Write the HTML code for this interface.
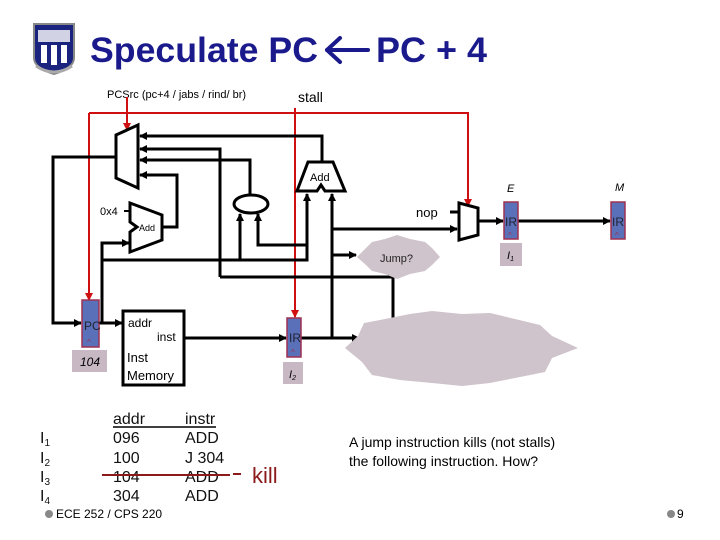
<!DOCTYPE html>
<html><head><meta charset="utf-8"><style>
body{margin:0;background:#fff}
svg{display:block;font-family:"Liberation Sans",sans-serif}
</style></head><body>
<svg width="720" height="540" viewBox="0 0 720 540" xmlns="http://www.w3.org/2000/svg">
<defs>
<marker id="a" markerWidth="8" markerHeight="8" refX="7" refY="4" orient="auto" markerUnits="userSpaceOnUse"><path d="M0,0 L8,4 L0,8 z" fill="#000"/></marker>
<marker id="r" markerWidth="8" markerHeight="8" refX="7" refY="4" orient="auto" markerUnits="userSpaceOnUse"><path d="M0,0 L8,4 L0,8 z" fill="#d01010"/></marker>
</defs>
<!-- logo -->
<g>
<path d="M34,24 L74,24 L74,58 Q74,68 54,74 Q34,68 34,58 Z" fill="#1a237e" stroke="#888" stroke-width="2"/>
<rect x="38" y="30" width="32" height="12" fill="#fff" opacity="0.8"/>
<rect x="41" y="45" width="6" height="18" fill="#fff"/><rect x="51" y="45" width="6" height="20" fill="#fff"/><rect x="61" y="45" width="6" height="18" fill="#fff"/>
<path d="M36,66 Q54,78 72,66" stroke="#aaa" stroke-width="3" fill="none"/>
</g>
<text x="90" y="62" font-size="35" font-weight="bold" fill="#1a1a8c" textLength="228" lengthAdjust="spacingAndGlyphs">Speculate PC</text>
<g stroke="#1a1a8c" stroke-width="4" fill="none" stroke-linecap="round" stroke-linejoin="round">
<line x1="327" y1="50" x2="368" y2="50"/>
<polyline points="340,38 327,50 340,62"/>
</g>
<text x="376" y="62" font-size="35" font-weight="bold" fill="#1a1a8c" textLength="111" lengthAdjust="spacingAndGlyphs">PC + 4</text>
<text x="107" y="98" font-size="11">PCSrc (pc+4 / jabs / rind/ br)</text>
<text x="298" y="102" font-size="14">stall</text>

<!-- red lines -->
<g stroke="#d01010" stroke-width="2" fill="none">
<polyline points="89,113 468,113 468,206" marker-end="url(#r)"/>
<line x1="89" y1="113" x2="89" y2="300" marker-end="url(#r)"/>
<line x1="295" y1="108" x2="295" y2="317" marker-end="url(#r)"/>
<line x1="127" y1="97" x2="127" y2="130" marker-end="url(#r)"/>
</g>

<g stroke="#000" stroke-width="3" fill="none">
<polygon points="116,135 138,125 138,188 116,178" fill="#fff"/>
<polyline points="322,161 322,136 140,136" marker-end="url(#a)"/>
<polyline points="220,277 220,149 140,149" marker-end="url(#a)"/>
<polyline points="250,196 250,160 140,160" marker-end="url(#a)"/>
<polyline points="162,227 177,227 177,175 140,175" marker-end="url(#a)"/>
<polyline points="116,157 53,157 53,323 81,323" marker-end="url(#a)"/>
<polygon points="130,203 162,215 162,240 130,252 130,232 137,227 130,222" fill="#fff"/>
<line x1="124" y1="211" x2="130" y2="211" stroke-width="2"/>
<line x1="99" y1="323" x2="122" y2="323" marker-end="url(#a)"/>
<polyline points="102,323 102,243 129,243" marker-end="url(#a)"/>
<polyline points="102,260 307,260 307,194" marker-end="url(#a)"/>
<ellipse cx="251" cy="204" rx="17" ry="9" fill="#fff"/>
<line x1="240" y1="260" x2="240" y2="214" marker-end="url(#a)"/>
<polyline points="307,245 258,245 258,214" marker-end="url(#a)"/>
<polygon points="308,162 333,162 345,191 325,191 321,185 317,191 297,191" fill="#fff"/>
<line x1="332" y1="338" x2="332" y2="194" marker-end="url(#a)"/>
<line x1="332" y1="229" x2="457" y2="229" marker-end="url(#a)"/>
<line x1="332" y1="255" x2="356" y2="255" marker-end="url(#a)"/>
<polyline points="220,277 393,277 393,322"/>
<rect x="123" y="311" width="61" height="74" fill="#fff"/>
<line x1="184" y1="338" x2="286" y2="338" marker-end="url(#a)"/>
<line x1="301" y1="338" x2="359" y2="338" marker-end="url(#a)"/>
<polygon points="459,203 478,208 478,235 459,240" fill="#fff"/>
<line x1="450" y1="212" x2="459" y2="212"/>
<line x1="478" y1="221" x2="503" y2="221" marker-end="url(#a)"/>
<line x1="518" y1="221" x2="610" y2="221" marker-end="url(#a)"/>
</g>
<polygon points="357,257 366,248 372,242 385,239 397,235 410,239 425,242 432,248 440,257 432,265 425,271 410,274 397,279 385,274 372,271 366,265" fill="#cfc3cc"/>
<text x="380" y="262" font-size="11" fill="#222">Jump?</text>
<polygon points="345,348 358,336 364,323 385,319 410,314 432,311 462,314 490,313 515,319 540,325 552,336 578,348 552,358 545,372 515,378 490,383 462,386 432,383 400,380 372,375 362,362" fill="#cfc3cc"/>
<g stroke="#a03050" stroke-width="1.5" fill="#5a70b8">
<rect x="82" y="300" width="17" height="47"/>
<rect x="287" y="318" width="14" height="39"/>
<rect x="504" y="202" width="14" height="37"/>
<rect x="611" y="202" width="14" height="37"/>
</g>
<g fill="#c8b8c4">
<rect x="72" y="350" width="35" height="22"/>
<rect x="283" y="362" width="20" height="22"/>
<rect x="500" y="243" width="22" height="23"/>
</g>
<g font-size="12" fill="#223">
<text x="84" y="330">PC</text>
<text x="289" y="342">IR</text>
<text x="505" y="226">IR</text>
<text x="612" y="226">IR</text>
</g>
<g font-size="8" fill="#a03050"><text x="87" y="345">^</text><text x="291" y="355">^</text><text x="508" y="238">^</text><text x="615" y="238">^</text></g>
<text x="80" y="366" font-size="12" font-style="italic">104</text>
<text x="289" y="378" font-size="11" font-style="italic">I<tspan font-size="7" dy="2">2</tspan></text>
<text x="507" y="259" font-size="11" font-style="italic">I<tspan font-size="7" dy="2">1</tspan></text>
<text x="507" y="192" font-size="11" font-style="italic">E</text>
<text x="615" y="191" font-size="11" font-style="italic">M</text>
<text x="310" y="181" font-size="11">Add</text>
<text x="139" y="231" font-size="9">Add</text>
<text x="100" y="215" font-size="11">0x4</text>
<text x="416" y="217" font-size="13">nop</text>
<text x="128" y="327" font-size="12">addr</text>
<text x="157" y="341" font-size="12">inst</text>
<text x="127" y="362" font-size="13">Inst</text>
<text x="127" y="380" font-size="13">Memory</text>

<g font-size="16" fill="#111">
<text x="113" y="424">addr</text><text x="185" y="424">instr</text>
<text x="40" y="443">I<tspan font-size="10" dy="3">1</tspan></text>
<text x="40" y="463">I<tspan font-size="10" dy="3">2</tspan></text>
<text x="40" y="482">I<tspan font-size="10" dy="3">3</tspan></text>
<text x="40" y="501">I<tspan font-size="10" dy="3">4</tspan></text>
<text x="113" y="443">096</text><text x="185" y="443">ADD</text>
<text x="113" y="463">100</text><text x="185" y="463">J 304</text>
<text x="113" y="482">104</text><text x="185" y="482">ADD</text>
<text x="113" y="501">304</text><text x="185" y="501">ADD</text>
</g>
<line x1="113" y1="427" x2="216" y2="427" stroke="#000" stroke-width="1.5"/>
<line x1="102" y1="475" x2="230" y2="475" stroke="#8b1a1a" stroke-width="2"/>
<line x1="233" y1="474" x2="241" y2="474" stroke="#8b1a1a" stroke-width="2"/>
<text x="252" y="483" font-size="22" fill="#8b1a1a">kill</text>
<text x="349" y="447" font-size="14">A jump instruction kills (not stalls)</text>
<text x="349" y="466" font-size="14">the following instruction. How?</text>
<circle cx="49" cy="514" r="4" fill="#888"/>
<text x="56" y="518" font-size="12">ECE 252 / CPS 220</text>
<circle cx="671" cy="514" r="4" fill="#888"/>
<text x="677" y="518" font-size="12">9</text>
</svg>
</body></html>
